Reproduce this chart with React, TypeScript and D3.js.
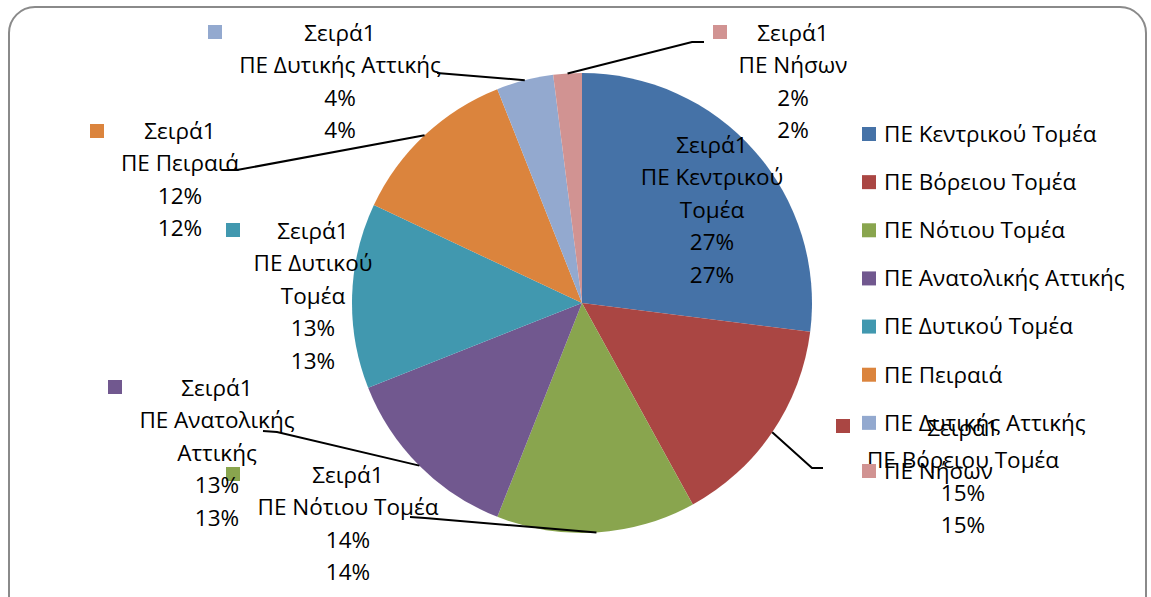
import React from "react";
import * as d3 from "d3";

const categories = [
  "ΠΕ Κεντρικού Τομέα",
  "ΠΕ Βόρειου Τομέα",
  "ΠΕ Νότιου Τομέα",
  "ΠΕ Ανατολικής Αττικής",
  "ΠΕ Δυτικού Τομέα",
  "ΠΕ Πειραιά",
  "ΠΕ Δυτικής Αττικής",
  "ΠΕ Νήσων",
];
const values = [27, 15, 14, 13, 13, 12, 4, 2];
const seriesName = "Σειρά1";
const colors = ["#4572A7", "#AA4643", "#89A54E", "#71588F", "#4198AF", "#DB843D", "#93A9CF", "#D19392"];

// how each data label wraps its category name
const labelNameLines = [
  ["ΠΕ Κεντρικού", "Τομέα"],
  ["ΠΕ Βόρειου Τομέα"],
  ["ΠΕ Νότιου Τομέα"],
  ["ΠΕ Ανατολικής", "Αττικής"],
  ["ΠΕ Δυτικού", "Τομέα"],
  ["ΠΕ Πειραιά"],
  ["ΠΕ Δυτικής Αττικής"],
  ["ΠΕ Νήσων"],
];

// label layout: text centre x, first line y, key square pos, leader points (from label side)
const labelLayout: any[] = [
  { cx: 712, y: 145, key: null, leader: null },
  { cx: 963, y: 428, key: [836, 419], leader: [[823, 468], [812, 468]] },
  { cx: 348, y: 475, key: [226, 467], leader: [[410, 517], [425, 518]] },
  { cx: 217, y: 388, key: [108, 380], leader: [[263, 431], [277, 432]] },
  { cx: 313, y: 231, key: [226, 223], leader: null },
  { cx: 180, y: 131, key: [90, 124], leader: [[222, 170], [237, 170]] },
  { cx: 340, y: 33, key: [208, 25], leader: [[437, 73]] },
  { cx: 793, y: 33, key: [713, 25], leader: [[704, 42], [692, 42]] },
];

export default function App() {
  const width = 1151;
  const height = 597;
  const cx = 582;
  const cy = 303;
  const r = 230;
  const font = "'Open Sans', sans-serif";
  const fs = 22.5;
  const lh = 32.5;

  const pie = d3.pie<number>().sort(null).value((d) => d);
  const arcs = pie(values);
  const arc = d3.arc<d3.PieArcDatum<number>>().innerRadius(0).outerRadius(r);

  const edgePoint = (a: d3.PieArcDatum<number>) => {
    const m = (a.startAngle + a.endAngle) / 2;
    return [cx + r * Math.sin(m), cy - r * Math.cos(m)];
  };

  const legendY = d3.scalePoint<string>().domain(categories).range([134, 471]);

  return (
    <svg width={width} height={height} style={{ position: "absolute", left: 0, top: 0 }}>
      <rect x={9} y={7} width={1137} height={640} rx={26} fill="white" stroke="#8a8a8a" strokeWidth={2} />
      <g transform={`translate(${cx},${cy})`}>
        {arcs.map((a, i) => (
          <path key={i} d={arc(a) || ""} fill={colors[i]} />
        ))}
      </g>
      {arcs.map((a, i) => {
        const L = labelLayout[i];
        if (!L.leader) return null;
        const pts = [edgePoint(a), ...L.leader.slice().reverse()];
        return (
          <path
            key={"l" + i}
            d={d3.line()(pts as [number, number][]) || ""}
            fill="none"
            stroke="black"
            strokeWidth={2}
          />
        );
      })}
      {arcs.map((a, i) => {
        const L = labelLayout[i];
        const pct = `${values[i]}%`;
        const lines = [seriesName, ...labelNameLines[i], pct, pct];
        return (
          <g key={"t" + i}>
            {L.key && <rect x={L.key[0]} y={L.key[1]} width={14} height={14} fill={colors[i]} />}
            {lines.map((t, j) => (
              <text
                key={j}
                x={L.cx}
                y={L.y + j * lh}
                dy="0.35em"
                textAnchor="middle"
                fontFamily={font}
                fontSize={fs}
                fill="black"
              >
                {t}
              </text>
            ))}
          </g>
        );
      })}
      <g>
        {categories.map((c, i) => (
          <g key={c}>
            <rect x={862} y={(legendY(c) as number) - 7} width={14} height={14} fill={colors[i]} />
            <text x={884} y={legendY(c) as number} dy="0.35em" fontFamily={font} fontSize={fs} fill="black">
              {c}
            </text>
          </g>
        ))}
      </g>
    </svg>
  );
}
